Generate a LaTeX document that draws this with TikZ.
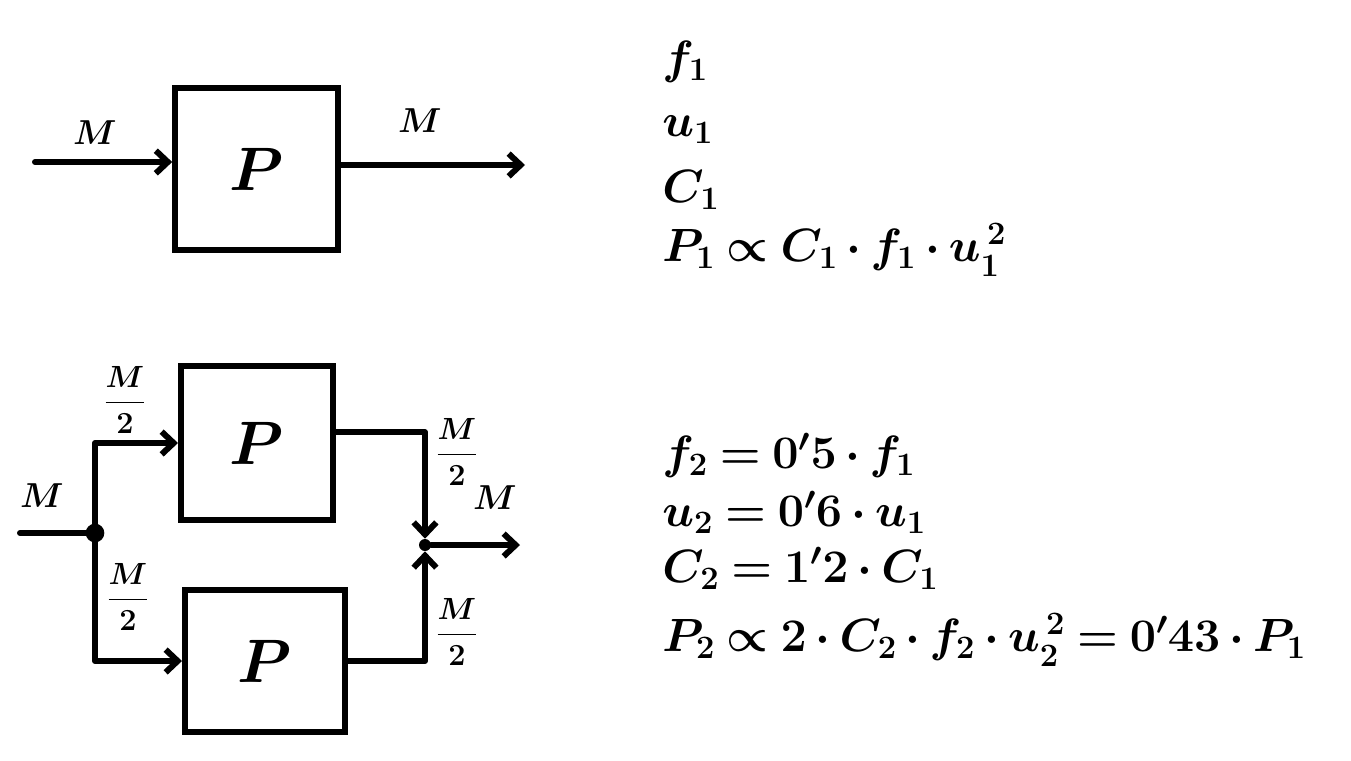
\RequirePackage{fix-cm}
\documentclass[tikz,border=0pt]{standalone}
\usepackage{amsmath}
\usetikzlibrary{arrows.meta}
\newcommand\myeqspacing{\thickmuskip=4mu\relax\medmuskip=3mu\relax}
\begin{document}
\begin{tikzpicture}[x=0.75pt,y=-0.75pt,
  wire/.style={line width=4.5pt,line cap=round,line join=round},
  arr/.style={wire,-{Straight Barb[length=9pt,width=17pt,line width=4.5pt]}},
  blk/.style={draw,line width=4.5pt,inner sep=0pt,font=\fontsize{46}{50}\selectfont\boldmath},
  lbl/.style={inner sep=0pt,font=\fontsize{26}{30}\selectfont\boldmath},
  flbl/.style={inner sep=0pt,font=\fontsize{23}{26}\selectfont\boldmath},
  eq/.style={anchor=west,inner sep=0pt,font=\fontsize{35}{40}\selectfont\boldmath\myeqspacing},
  dot/.style={circle,fill,inner sep=0pt,minimum size=#1}]
\useasboundingbox (0,0) rectangle (1351,760);
% ---------- top diagram
\node[blk,minimum width=122pt,minimum height=121.5pt] (p1) at (256.5,169) {$P$};
\coordinate (in1) at (35,162);
\coordinate (out1) at (525,165);
\draw[arr] (in1) -- (in1 -| p1.west);
\draw[arr] (out1 -| p1.east) -- (out1);
\node[lbl] (l1) at (95,133) {$M$};
\node[lbl] (l2) at (420,121) {$M$};
% ---------- bottom diagram
\node[blk,minimum width=114pt,minimum height=115.5pt] (pa) at (257,443) {$P$};
\node[blk,minimum width=120pt,minimum height=107pt] (pb) at (265,661) {$P$};
\node[dot=14pt] (j1) at (95,533) {};
\node[dot=9pt] (j2) at (425,545) {};
\coordinate (in2) at (20,533);
\coordinate (out2) at (520,545);
\draw[wire] (in2) -- (j1);
\draw[arr] (j1) |- (pa.west);
\draw[arr] (j1) |- (pb.west);
\draw[arr] ([yshift=8pt]pa.east) -| (j2);
\draw[arr] (pb.east) -| (j2);
\draw[arr] (j2) -- (out2);
\node[lbl] (l3) at (42,496) {$M$};
\node[lbl] (l4) at (495,498) {$M$};
\node[flbl] (h1) at (125,400) {$\dfrac{M}{2}$};
\node[flbl] (h2) at (128,597) {$\dfrac{M}{2}$};
\node[flbl] (h3) at (457,452) {$\dfrac{M}{2}$};
\node[flbl] (h4) at (457,632) {$\dfrac{M}{2}$};
% ---------- equations
\node[eq] (e1) at (662,62) {$f_1$};
\node[eq] (e2) at (662,130) {$u_1$};
\node[eq] (e3) at (662,190) {$C_1$};
\node[eq] (e4) at (662,250) {$P_1 \propto C_1\cdot f_1\cdot u_1^{\,2}$};
\node[eq] (e5) at (662,455) {$f_2 = 0'5\cdot f_1$};
\node[eq] (e6) at (662,512) {$u_2 = 0'6\cdot u_1$};
\node[eq] (e7) at (662,568) {$C_2 = 1'2\cdot C_1$};
\node[eq] (e8) at (662,640) {$P_2 \propto 2\cdot C_2\cdot f_2\cdot u_2^{\,2} = 0'43\cdot P_1$};
\end{tikzpicture}
\end{document}
